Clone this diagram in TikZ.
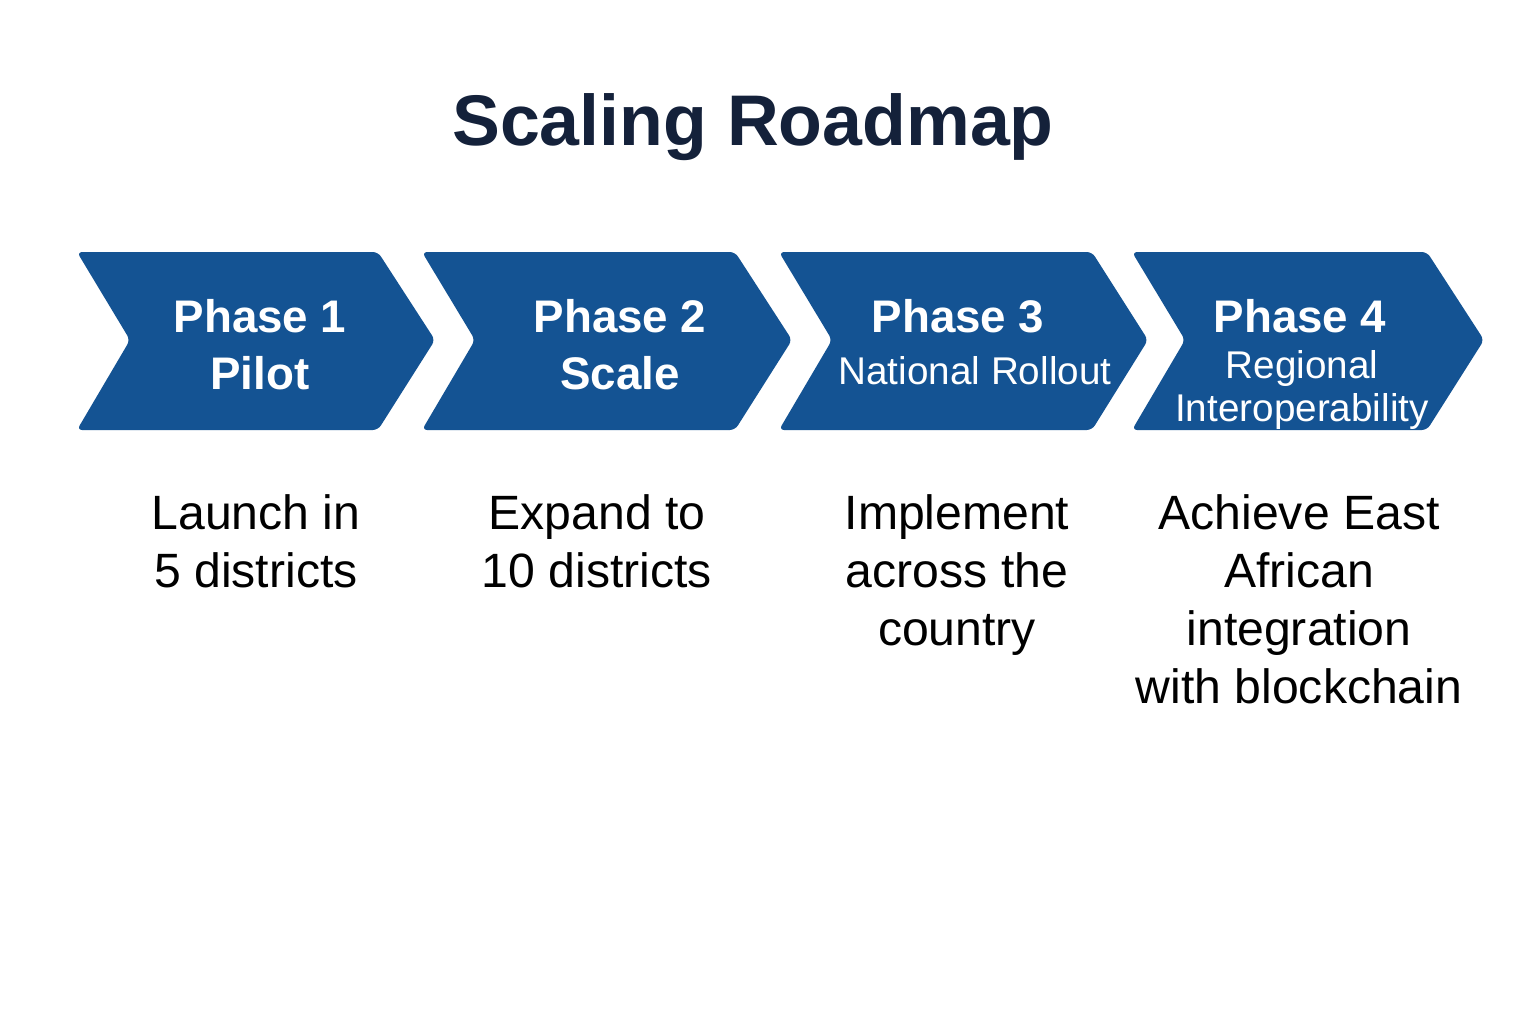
\documentclass[tikz,border=0pt]{standalone}
\usepackage{fontspec}
\setmainfont{Liberation Sans}
\usepackage{tikz}
\usetikzlibrary{positioning,calc}
\usepackage{xcolor}
\definecolor{phaseblue}{HTML}{145393}
\definecolor{titlenavy}{HTML}{14213A}
\tikzset{
  chevron/.style={fill=phaseblue,rounded corners=1.5pt},
  phasetext/.style={text=white,align=center,inner sep=0pt,font=\bfseries\fontsize{13}{16.2}\selectfont},
  phasesmall/.style={text=white,align=center,inner sep=0pt,font=\fontsize{11}{12}\selectfont},
  desctext/.style={text=black,align=center,inner sep=0pt,font=\fontsize{13.7}{16.5}\selectfont}
}
\begin{document}
\begin{tikzpicture}[x=1cm,y=1cm]
\useasboundingbox[fill=white] (0,0) rectangle (15.36,-10.24);
% title
\node[text=titlenavy,font=\bfseries\fontsize{20.4}{24}\selectfont] (title) at (7.53,-1.27) {Scaling Roadmap};
% chevrons
\fill[chevron] (0.77,-2.52) -- (3.78,-2.52) -- (4.35,-3.40) -- (3.78,-4.30) -- (0.77,-4.30) -- (1.30,-3.40) -- cycle;
\fill[chevron] (4.22,-2.52) -- (7.35,-2.52) -- (7.92,-3.40) -- (7.35,-4.30) -- (4.22,-4.30) -- (4.75,-3.40) -- cycle;
\fill[chevron] (7.79,-2.52) -- (10.92,-2.52) -- (11.48,-3.40) -- (10.92,-4.30) -- (7.79,-4.30) -- (8.32,-3.40) -- cycle;
\fill[chevron] (11.32,-2.52) -- (14.27,-2.52) -- (14.84,-3.40) -- (14.27,-4.30) -- (11.32,-4.30) -- (11.85,-3.40) -- cycle;
% phase labels
\node[phasetext] (p1) at (2.60,-3.45) {Phase 1\\Pilot};
\node[phasetext] (p2) at (6.20,-3.45) {Phase 2\\Scale};
\node[phasetext] (p3head) at (9.58,-3.16) {Phase 3};
\node[phasesmall] (p3) at (9.75,-3.71) {National Rollout};
\node[phasetext] (p4head) at (13.00,-3.16) {Phase 4};
\node[phasesmall] (p4) at (13.02,-3.90) {Regional\\Interoperability};
% descriptions
\node[desctext,anchor=north] (d1) at (2.56,-4.94) {Launch in\\5 districts};
\node[desctext,anchor=north] (d2) at (5.97,-4.94) {Expand to\\10 districts};
\node[desctext,anchor=north] (d3) at (9.57,-4.94) {Implement\\across the\\country};
\node[desctext,anchor=north] (d4) at (12.99,-4.94) {Achieve East\\African\\integration\\with blockchain};
\end{tikzpicture}
\end{document}
